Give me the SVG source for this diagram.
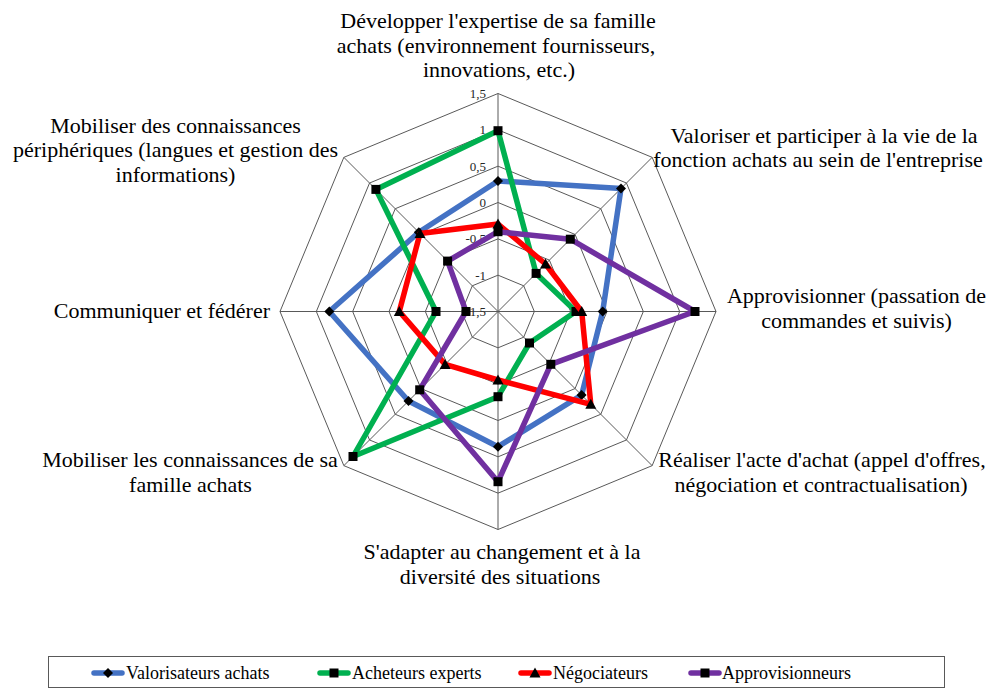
<svg xmlns="http://www.w3.org/2000/svg" xmlns:xlink="http://www.w3.org/1999/xlink" width="990" height="688" viewBox="0 0 990 688" font-family="'Liberation Serif', 'DejaVu Serif', serif">
<style>
.grid{fill:none;stroke:#595959;stroke-width:1}
.ax{stroke:#595959;stroke-width:1}
text{font-family:'Liberation Serif','DejaVu Serif',serif}
.cat{font-size:22px;fill:#000}
.tick{font-size:13px;fill:#262626;text-anchor:end}
.leg{font-size:18px;fill:#000}
.s{fill:none;stroke-width:5.5;stroke-linejoin:round;stroke-linecap:round}
.blue{stroke:#4472C4}.green{stroke:#00B050}.red{stroke:#FF0000}.purple{stroke:#7030A0}
.m{fill:#000}
</style>
<defs>
<path id="sq" d="M-4.5-4.5h9v9h-9z"/>
<path id="dm" d="M0-5L5 0 0 5-5 0z"/>
<path id="tr" d="M0-5.5L5.5 4.5H-5.5z"/>
</defs>
<rect width="990" height="688" fill="#fff"/>

<g id="grid">
<polygon class="grid" points="498,275.17 523.69,285.81 534.33,311.5 523.69,337.19 498,347.83 472.31,337.19 461.67,311.5 472.31,285.81"/>
<polygon class="grid" points="498,238.83 549.38,260.12 570.67,311.5 549.38,362.88 498,384.17 446.62,362.88 425.33,311.5 446.62,260.12"/>
<polygon class="grid" points="498,202.5 575.07,234.43 607,311.5 575.07,388.57 498,420.5 420.93,388.57 389,311.5 420.93,234.43"/>
<polygon class="grid" points="498,166.17 600.77,208.73 643.33,311.5 600.77,414.27 498,456.83 395.23,414.27 352.67,311.5 395.23,208.73"/>
<polygon class="grid" points="498,129.83 626.46,183.04 679.67,311.5 626.46,439.96 498,493.17 369.54,439.96 316.33,311.5 369.54,183.04"/>
<polygon class="grid" points="498,93.5 652.15,157.35 716,311.5 652.15,465.65 498,529.5 343.85,465.65 280,311.5 343.85,157.35"/>
<line class="ax" x1="498" y1="311.5" x2="498" y2="93.5"/>
<line class="ax" x1="498" y1="311.5" x2="652.15" y2="157.35"/>
<line class="ax" x1="498" y1="311.5" x2="716" y2="311.5"/>
<line class="ax" x1="498" y1="311.5" x2="652.15" y2="465.65"/>
<line class="ax" x1="498" y1="311.5" x2="498" y2="529.5"/>
<line class="ax" x1="498" y1="311.5" x2="343.85" y2="465.65"/>
<line class="ax" x1="498" y1="311.5" x2="280" y2="311.5"/>
<line class="ax" x1="498" y1="311.5" x2="343.85" y2="157.35"/>
</g>

<g id="ticks">
<text class="tick" x="486" y="98">1,5</text>
<text class="tick" x="486" y="134.3">1</text>
<text class="tick" x="486" y="170.7">0,5</text>
<text class="tick" x="486" y="207">0</text>
<text class="tick" x="486" y="243.3">-0,5</text>
<text class="tick" x="486" y="279.7">-1</text>
<text class="tick" x="486" y="316">-1,5</text>
</g>

<g id="labels">
<g id="cat-top" class="cat" text-anchor="middle">
<text x="498" y="28">Développer l'expertise de sa famille</text>
<text x="496" y="52.5">achats (environnement fournisseurs,</text>
<text x="499" y="77">innovations, etc.)</text>
</g>
<g id="cat-tr" class="cat" text-anchor="middle">
<text x="824" y="143">Valoriser et participer à la vie de la</text>
<text x="818" y="167">fonction achats au sein de l'entreprise</text>
</g>
<g id="cat-r" class="cat" text-anchor="middle">
<text x="856.5" y="303">Approvisionner (passation de</text>
<text x="856.5" y="327.5">commandes et suivis)</text>
</g>
<g id="cat-br" class="cat" text-anchor="middle">
<text x="822" y="467">Réaliser l'acte d'achat (appel d'offres,</text>
<text x="821" y="491.5">négociation et contractualisation)</text>
</g>
<g id="cat-b" class="cat" text-anchor="middle">
<text x="502" y="559">S'adapter au changement et à la</text>
<text x="500" y="583.5">diversité des situations</text>
</g>
<g id="cat-bl" class="cat" text-anchor="middle">
<text x="190" y="467">Mobiliser les connaissances de sa</text>
<text x="190.5" y="491.5">famille achats</text>
</g>
<g id="cat-l" class="cat" text-anchor="end">
<text x="270" y="318">Communiquer et fédérer</text>
</g>
<g id="cat-tl" class="cat" text-anchor="middle">
<text x="175.5" y="132.5">Mobiliser des connaissances</text>
<text x="175.5" y="157">périphériques (langues et gestion des</text>
<text x="175.5" y="181.5">informations)</text>
</g>
</g>

<g id="connectors">
<g id="series-valorisateurs">
<polygon class="s blue" points="498,181 621,188.5 602.7,311.5 581.6,395.1 498,446.7 408.5,401 329.3,311.5 418.8,232.3"/>
<g class="m">
<use href="#dm" x="498" y="181"/><use href="#dm" x="621" y="188.5"/><use href="#dm" x="602.7" y="311.5"/><use href="#dm" x="581.6" y="395.1"/>
<use href="#dm" x="498" y="446.7"/><use href="#dm" x="408.5" y="401"/><use href="#dm" x="329.3" y="311.5"/><use href="#dm" x="418.8" y="232.3"/>
</g>
</g>
<g id="series-acheteurs">
<polygon class="s green" points="498,130.7 536.1,273.4 576,311.5 529.5,343 498,396.7 353,456.5 436,311.5 375.9,189.4"/>
<g class="m">
<use href="#sq" x="498" y="130.7"/><use href="#sq" x="536.1" y="273.4"/><use href="#sq" x="576" y="311.5"/><use href="#sq" x="529.5" y="343"/>
<use href="#sq" x="498" y="396.7"/><use href="#sq" x="353" y="456.5"/><use href="#sq" x="436" y="311.5"/><use href="#sq" x="375.9" y="189.4"/>
</g>
</g>
<g id="series-negociateurs">
<polygon class="s red" points="498,224 545.5,264 581.7,311.5 590.8,404.3 498,380 445.1,364.4 399.3,311.5 420,233.5"/>
<g class="m">
<use href="#tr" x="498" y="224"/><use href="#tr" x="545.5" y="264"/><use href="#tr" x="581.7" y="311.5"/><use href="#tr" x="590.8" y="404.3"/>
<use href="#tr" x="498" y="380"/><use href="#tr" x="445.1" y="364.4"/><use href="#tr" x="399.3" y="311.5"/><use href="#tr" x="420" y="233.5"/>
</g>
</g>
<g id="series-approvisionneurs">
<polygon class="s purple" points="498,231.7 570.3,239.2 695,311.5 550.8,364.3 498,481.7 419.7,389.8 466,311.5 447.6,261.1"/>
<g class="m">
<use href="#sq" x="498" y="231.7"/><use href="#sq" x="570.3" y="239.2"/><use href="#sq" x="695" y="311.5"/><use href="#sq" x="550.8" y="364.3"/>
<use href="#sq" x="498" y="481.7"/><use href="#sq" x="419.7" y="389.8"/><use href="#sq" x="466" y="311.5"/><use href="#sq" x="447.6" y="261.1"/>
</g>
</g>
</g>

<g id="legend">
<rect x="48.5" y="656.5" width="896" height="31" fill="none" stroke="#595959" stroke-width="1"/>
<line class="s blue" x1="94" y1="673" x2="122" y2="673"/><use class="m" href="#dm" x="108" y="673"/>
<text class="leg" x="126" y="679">Valorisateurs achats</text>
<line class="s green" x1="320" y1="673" x2="348" y2="673"/><use class="m" href="#sq" x="334" y="673"/>
<text class="leg" x="352" y="679">Acheteurs experts</text>
<line class="s red" x1="521" y1="673" x2="549" y2="673"/><use class="m" href="#tr" x="535" y="673"/>
<text class="leg" x="553" y="679">Négociateurs</text>
<line class="s purple" x1="691" y1="673" x2="719" y2="673"/><use class="m" href="#sq" x="705" y="673"/>
<text class="leg" x="722" y="679">Approvisionneurs</text>
</g>
</svg>
